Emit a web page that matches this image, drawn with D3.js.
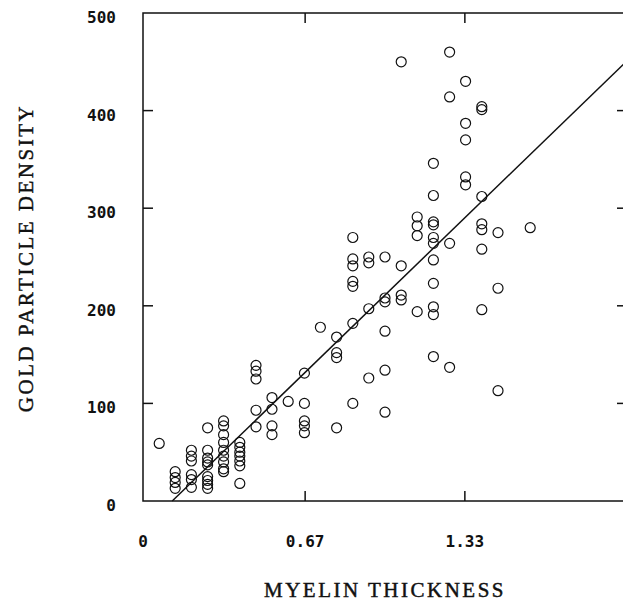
<!DOCTYPE html>
<html>
<head>
  <meta charset="utf-8">
  <script src="https://d3js.org/d3.v7.min.js"></script>
  <style>
    body { margin: 0; background: #fff; }
    .tick-label { font-family: "DejaVu Sans Mono", monospace; font-weight: bold; font-size: 16px; fill: #111; }
    .axis-title { font-family: "Liberation Serif", "Times New Roman", serif; font-size: 21px; letter-spacing: 2.5px;
      fill: #111; stroke: #111; stroke-width: 0.45px; }
  </style>
</head>
<body>
  <svg id="chart" width="623" height="603"></svg>
  <script>
    // myelin thickness of each column of points
    var thickness = [0.067, 0.133, 0.2, 0.267, 0.333, 0.4, 0.467, 0.533, 0.6, 0.667, 0.733, 0.8,
      0.867, 0.933, 1.0, 1.067, 1.133, 1.2, 1.267, 1.333, 1.4, 1.467, 1.6];
    var density = [
      [59],
      [30, 24, 19, 13],
      [52, 46, 41, 27, 22, 14],
      [75, 52, 44, 40, 37, 25, 21, 17, 13],
      [82, 77, 68, 60, 52, 46, 40, 33, 30],
      [60, 55, 50, 46, 41, 36, 18],
      [139, 133, 125, 93, 76],
      [106, 94, 77, 68],
      [102],
      [131, 100, 82, 77, 70],
      [178],
      [168, 152, 147, 75],
      [270, 248, 241, 225, 220, 182, 100],
      [250, 244, 197, 126],
      [250, 208, 204, 174, 134, 91],
      [450, 241, 211, 206],
      [291, 282, 272, 194],
      [346, 313, 286, 283, 270, 264, 247, 223, 199, 191, 148],
      [460, 414, 264, 137],
      [430, 387, 370, 332, 324],
      [404, 401, 312, 284, 278, 258, 196],
      [275, 218, 113],
      [280]
    ];
    var xTicks = [0, 0.67, 1.33];
    var xTickLabels = ["0", "0.67", "1.33"];
    var yTicks = [0, 100, 200, 300, 400, 500];
    // fitted line: density = slope * thickness + intercept
    var fitSlope = 240;
    var fitIntercept = -29;

    var points = [];
    thickness.forEach(function (t, i) {
      density[i].forEach(function (d) { points.push({ x: t, y: d }); });
    });

    var svg = d3.select("#chart");
    var x = d3.scaleLinear().domain([0, 2]).range([143, 627]);
    var y = d3.scaleLinear().domain([0, 500]).range([501, 13]);

    // frame
    svg.append("rect")
      .attr("x", x(0)).attr("y", y(500))
      .attr("width", x(2) - x(0)).attr("height", y(0) - y(500))
      .attr("fill", "none").attr("stroke", "#111").attr("stroke-width", 1.5);

    var tl = 10;
    // inward ticks, y
    yTicks.slice(1, -1).forEach(function (v) {
      svg.append("line").attr("x1", x(0)).attr("x2", x(0) + tl).attr("y1", y(v)).attr("y2", y(v))
        .attr("stroke", "#111").attr("stroke-width", 1.5);
      svg.append("line").attr("x1", x(2)).attr("x2", x(2) - tl).attr("y1", y(v)).attr("y2", y(v))
        .attr("stroke", "#111").attr("stroke-width", 1.5);
    });
    // inward ticks, x
    xTicks.slice(1).forEach(function (v) {
      svg.append("line").attr("x1", x(v)).attr("x2", x(v)).attr("y1", y(0)).attr("y2", y(0) - tl)
        .attr("stroke", "#111").attr("stroke-width", 1.5);
      svg.append("line").attr("x1", x(v)).attr("x2", x(v)).attr("y1", y(500)).attr("y2", y(500) + tl)
        .attr("stroke", "#111").attr("stroke-width", 1.5);
    });

    svg.selectAll(".ylab")
      .data(yTicks)
      .enter().append("text")
      .attr("class", "tick-label")
      .attr("text-anchor", "end")
      .attr("x", 116)
      .attr("y", function (d) { return y(d) + 10; })
      .text(function (d) { return d; });

    svg.selectAll(".xlab")
      .data(xTicks)
      .enter().append("text")
      .attr("class", "tick-label")
      .attr("text-anchor", "middle")
      .attr("x", function (d) { return x(d); })
      .attr("y", 547)
      .text(function (d, i) { return xTickLabels[i]; });

    svg.append("text").attr("class", "axis-title")
      .attr("text-anchor", "middle")
      .attr("x", 385).attr("y", 597)
      .text("MYELIN THICKNESS");

    svg.append("text").attr("class", "axis-title")
      .attr("text-anchor", "middle")
      .attr("transform", "translate(33,258) rotate(-90)")
      .text("GOLD PARTICLE DENSITY");

    // regression line
    var x0 = -fitIntercept / fitSlope;
    svg.append("line")
      .attr("x1", x(x0)).attr("y1", y(0))
      .attr("x2", x(2)).attr("y2", y(fitSlope * 2 + fitIntercept))
      .attr("stroke", "#111").attr("stroke-width", 1.5);

    svg.selectAll("circle")
      .data(points)
      .enter().append("circle")
      .attr("cx", function (d) { return x(d.x); })
      .attr("cy", function (d) { return y(d.y); })
      .attr("r", 5)
      .attr("fill", "none")
      .attr("stroke", "#111")
      .attr("stroke-width", 1.2);
  </script>
</body>
</html>
